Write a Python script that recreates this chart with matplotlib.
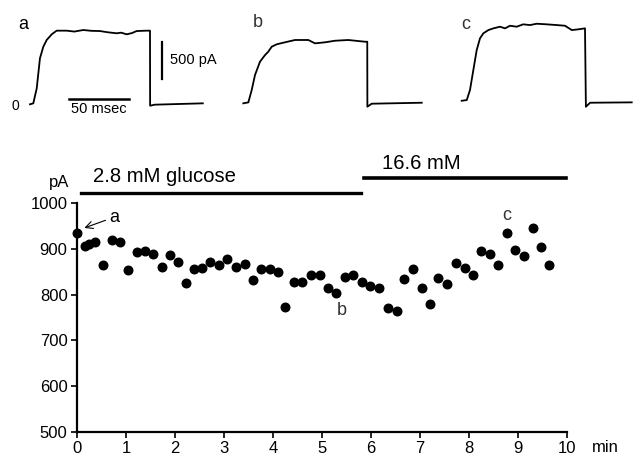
import matplotlib
matplotlib.use('Agg')
import matplotlib.pyplot as plt

plt.rcParams['font.family'] = ['Liberation Sans', 'DejaVu Sans']

# peak current vs time (min, pA)
times = [0, 0.157, 0.245, 0.36, 0.53, 0.70, 0.88, 1.04, 1.21, 1.38,
         1.55, 1.72, 1.89, 2.06, 2.21, 2.38, 2.55, 2.72, 2.89, 3.06,
         3.25, 3.42, 3.59, 3.76, 3.93, 4.10, 4.25, 4.42, 4.59, 4.78,
         4.95, 5.12, 5.29, 5.46, 5.63, 5.81, 5.98, 6.17, 6.34, 6.52,
         6.68, 6.86, 7.03, 7.20, 7.37, 7.55, 7.74, 7.91, 8.08, 8.25,
         8.42, 8.59, 8.77, 8.94, 9.13, 9.30, 9.47, 9.64]
current = [934, 906, 910, 915, 864, 919, 915, 855, 894, 896,
           889, 861, 886, 871, 826, 857, 859, 872, 864, 877,
           861, 868, 833, 857, 856, 850, 774, 828, 828, 842,
           842, 815, 804, 839, 842, 828, 820, 815, 771, 764,
           835, 857, 815, 779, 837, 824, 870, 859, 842, 896,
           889, 866, 936, 897, 885, 946, 905, 864]

low_glucose = (0.075, 5.79)
high_glucose = (5.85, 9.97)

# example current traces (ms, pA)
trace_a_t = [0, 2.75, 5.6, 8.3, 11.1, 13.9, 18.1, 22.2, 30.6, 37, 44.4, 51, 58.3,
             65, 72.2, 76, 80.6, 85, 88.9, 97.2, 100, 100.1, 104, 144]
trace_a_i = [0, 13, 214, 617, 772, 862, 938, 987, 987, 975, 996, 985, 982,
             965, 952, 960, 938, 955, 982, 987, 987, -19, -5, 13]
trace_b_t = [0, 4.2, 7.0, 9.75, 13.9, 18.1, 20.8, 23.7, 27.8, 34.75, 43.1, 54.2,
             59.75, 68.1, 76.4, 87.5, 95.8, 101.4, 103.3, 103.4, 107, 148.7]
trace_b_i = [0, 13, 178, 379, 558, 647, 692, 759, 791, 818, 849, 849,
             804, 818, 839, 849, 835, 826, 826, -45, -5, 8]
trace_c_t = [0, 4.2, 6.9, 9.7, 12.5, 15.25, 18.0, 22.2, 26.4, 31.9, 36.1, 40.25,
             45.8, 51.3, 56.9, 62.5, 70.8, 79.2, 86.1, 91.75, 97.3, 102.75,
             103.5, 107, 141.7]
trace_c_i = [10, 20, 154, 422, 690, 847, 914, 958, 981, 1003, 981, 1016,
             1003, 1035, 1025, 1043, 1035, 1025, 1016, 958, 968, 981,
             -70, -16, -11]

fig = plt.figure(figsize=(6.34, 4.62), dpi=100)

# top: traces
ax_t = fig.add_axes([0, 342 / 462, 1, 120 / 462])
ax_t.set_xlim(0, 634 / 1.2)
ax_t.set_ylim(-16 / 0.0746, 104 / 0.0746)
ax_t.axis('off')

for tt, ii, x0, y0 in [(trace_a_t, trace_a_i, 25, -4),
                       (trace_b_t, trace_b_i, 202.75, 9),
                       (trace_c_t, trace_c_i, 384.75, 33)]:
    ax_t.plot([x0 + t for t in tt], [y0 + i for i in ii], color='black', lw=1.3)

ax_t.plot([134.75, 134.75], [335, 835], color='black', lw=1.6)
ax_t.text(141.7, 590, '500 pA', fontsize=10.5, ha='left', va='center')
ax_t.plot([57.5, 107.5], [63, 63], color='black', lw=1.8)
ax_t.text(82.5, -63, '50 msec', fontsize=10.5, ha='center', va='center')
ax_t.text(12.5, -27, '0', fontsize=10, ha='center', va='center')
ax_t.text(19.4, 1059, 'a', fontsize=13, ha='center', va='center')
ax_t.text(215, 1086, 'b', fontsize=13, ha='center', va='center', color='#333333')
ax_t.text(388, 1072, 'c', fontsize=13, ha='center', va='center', color='#333333')

# bottom: peak current over time
ax = fig.add_axes([77.3 / 634, 30.3 / 462, (567 - 77.3) / 634, (431.7 - 203.3) / 462])
ax.scatter(times, current, s=38, color='black', zorder=3, clip_on=False)
ax.set_xlim(0, 10)
ax.set_ylim(500, 1000)
ax.set_xticks(range(11))
ax.set_yticks([500, 600, 700, 800, 900, 1000])
ax.tick_params(direction='out', length=4, width=1.2, labelsize=12, pad=3)
for s in ['top', 'right']:
    ax.spines[s].set_visible(False)
for s in ['left', 'bottom']:
    ax.spines[s].set_linewidth(1.6)

ax.plot(low_glucose, [1023, 1023], color='black', lw=2.4, clip_on=False)
ax.plot(high_glucose, [1055, 1055], color='black', lw=2.6, clip_on=False)
ax.text(0.32, 1058, '2.8 mM glucose', fontsize=14.6, ha='left', va='center')
ax.text(6.22, 1088, '16.6 mM', fontsize=14.6, ha='left', va='center')
ax.text(-0.37, 1045, 'pA', fontsize=12, ha='center', va='center')
ax.text(10.5, 466, 'min', fontsize=12, ha='left', va='center')

ax.annotate('a', xy=(0.09, 944), xytext=(0.66, 970), fontsize=13,
            ha='left', va='center',
            arrowprops=dict(arrowstyle='->', lw=0.8, color='black',
                            shrinkA=1, shrinkB=2))
ax.text(5.40, 765, 'b', fontsize=13, ha='center', va='center', color='#333333')
ax.text(8.76, 974, 'c', fontsize=13, ha='center', va='center', color='#333333')

fig.savefig('out.png', dpi=100)
